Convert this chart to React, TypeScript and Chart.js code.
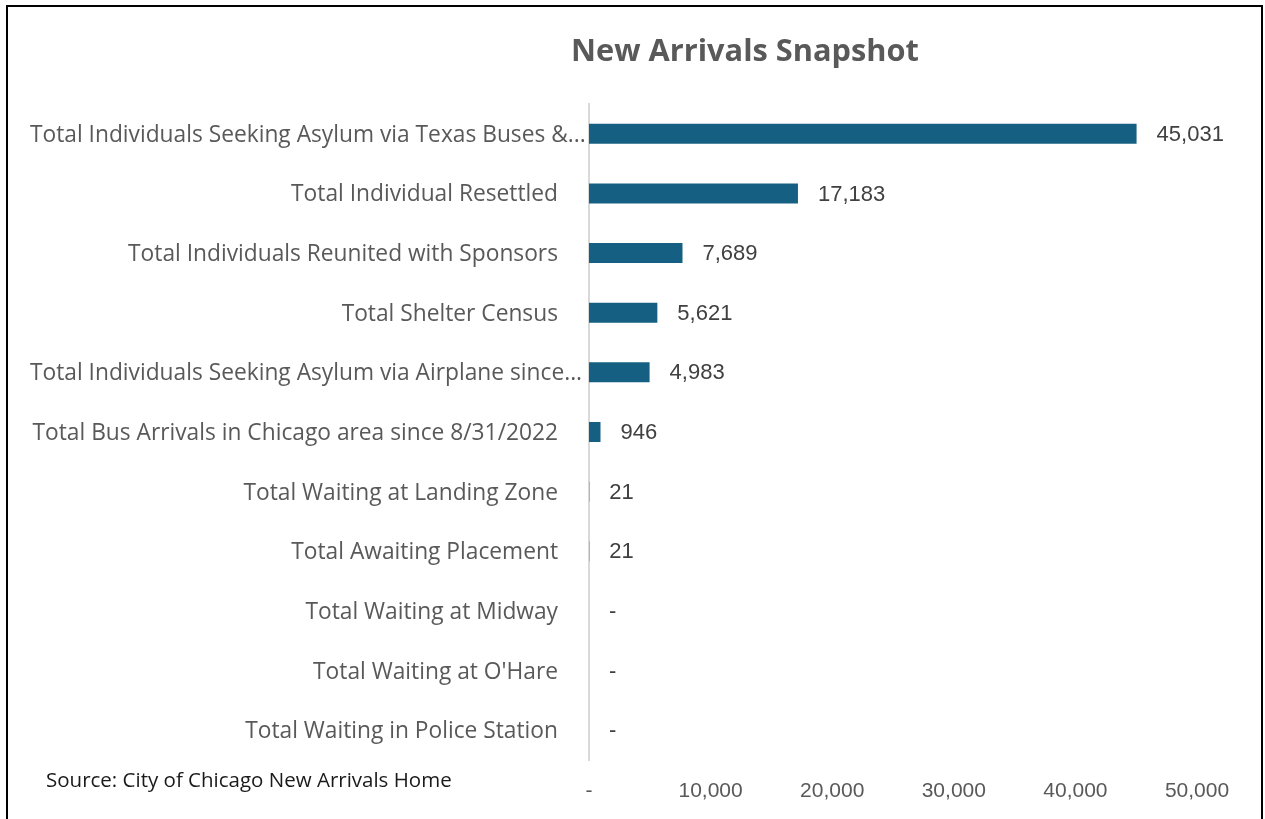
import React, { useEffect, useRef } from "react";
import { Chart, registerables } from "chart.js";

Chart.register(...registerables);

const categories = [
  "Total Individuals Seeking Asylum via Texas Buses &...",
  "Total Individual Resettled",
  "Total Individuals Reunited with Sponsors",
  "Total Shelter Census",
  "Total Individuals Seeking Asylum via Airplane since...",
  "Total Bus Arrivals in Chicago area since 8/31/2022",
  "Total Waiting at Landing Zone",
  "Total Awaiting Placement",
  "Total Waiting at Midway",
  "Total Waiting at O'Hare",
  "Total Waiting in Police Station",
];
const values = [45031, 17183, 7689, 5621, 4983, 946, 21, 21, 0, 0, 0];
const xTicks = [0, 10000, 20000, 30000, 40000, 50000];

const TITLE = "New Arrivals Snapshot";
const SOURCE = "Source: City of Chicago New Arrivals Home";

const fmt = (v: number) => (v === 0 ? "-" : v.toLocaleString("en-US"));

const fitSize = (ctx: any, text: string, family: string, target: number, weight = "") => {
  ctx.font = `${weight} 20px ${family}`;
  const w = ctx.measureText(text).width;
  return (20 * target) / w;
};

const decor = {
  id: "decor",
  afterDraw(chart: any) {
    const ctx = chart.ctx;
    const y = chart.scales.y;
    const x = chart.scales.x;
    ctx.save();
    // border
    ctx.strokeStyle = "#000000";
    ctx.lineWidth = 2;
    ctx.strokeRect(7, 6, 1255, 830);
    // title
    ctx.fillStyle = "#595959";
    const ts = fitSize(ctx, TITLE, "'Open Sans'", 348, "bold");
    ctx.font = `bold ${ts}px 'Open Sans'`;
    ctx.textAlign = "center";
    ctx.textBaseline = "middle";
    ctx.fillText(TITLE, 745, 52);
    // category labels
    const cs = fitSize(ctx, categories[1], "'Open Sans'", 267);
    ctx.font = `${cs}px 'Open Sans'`;
    ctx.fillStyle = "#595959";
    categories.forEach((c, i) => {
      const py = y.getPixelForValue(i) + 1.5;
      const w = ctx.measureText(c).width;
      if (w > 528) {
        ctx.textAlign = "left";
        ctx.fillText(c, 30, py);
      } else {
        ctx.textAlign = "right";
        ctx.fillText(c, 558, py);
      }
    });
    // data labels
    ctx.font = "22px 'Liberation Sans'";
    ctx.fillStyle = "#404040";
    ctx.textAlign = "left";
    values.forEach((v, i) => {
      const px = x.getPixelForValue(v);
      const py = y.getPixelForValue(i);
      ctx.fillText(fmt(v), px + 20, py + 1);
    });
    // source
    const ss = fitSize(ctx, SOURCE, "'Open Sans'", 406);
    ctx.font = `${ss}px 'Open Sans'`;
    ctx.fillStyle = "#1a1a1a";
    ctx.fillText(SOURCE, 46, 781);
    ctx.restore();
  },
};

export default function App() {
  const ref = useRef<HTMLCanvasElement>(null);
  useEffect(() => {
    const chart = new Chart(ref.current!, {
      type: "bar",
      data: {
        labels: categories,
        datasets: [
          {
            data: values,
            backgroundColor: "#156082",
            barThickness: 20,
            inflateAmount: 0,
          },
        ],
      },
      options: {
        indexAxis: "y",
        responsive: false,
        animation: false,
        layout: { padding: { top: 104, right: 68, left: 0, bottom: 0 } },
        plugins: {
          legend: { display: false },
          tooltip: { enabled: false },
        },
        scales: {
          y: {
            type: "category",
            z: 1,
            grid: { display: false },
            border: { display: true, color: "#d9d9d9", width: 2 },
            ticks: { display: false },
            afterFit: (s: any) => {
              s.width = 589;
            },
          },
          x: {
            type: "linear",
            min: 0,
            max: 50000,
            afterBuildTicks: (s: any) => {
              s.ticks = xTicks.map((v) => ({ value: v }));
            },
            grid: { display: false },
            border: { display: false },
            ticks: {
              padding: 11,
              color: "#595959",
              font: { family: "'Liberation Sans'", size: 21 },
              callback: (v: any) => fmt(Number(v)),
            },
            afterFit: (s: any) => {
              s.height = 59;
            },
          },
        },
      },
      plugins: [decor],
    });
    return () => chart.destroy();
  }, []);
  return (
    <div style={{ position: "fixed", left: 0, top: 0, width: 1265, height: 819, background: "#fff" }}>
      <canvas ref={ref} width={1265} height={819} />
    </div>
  );
}
